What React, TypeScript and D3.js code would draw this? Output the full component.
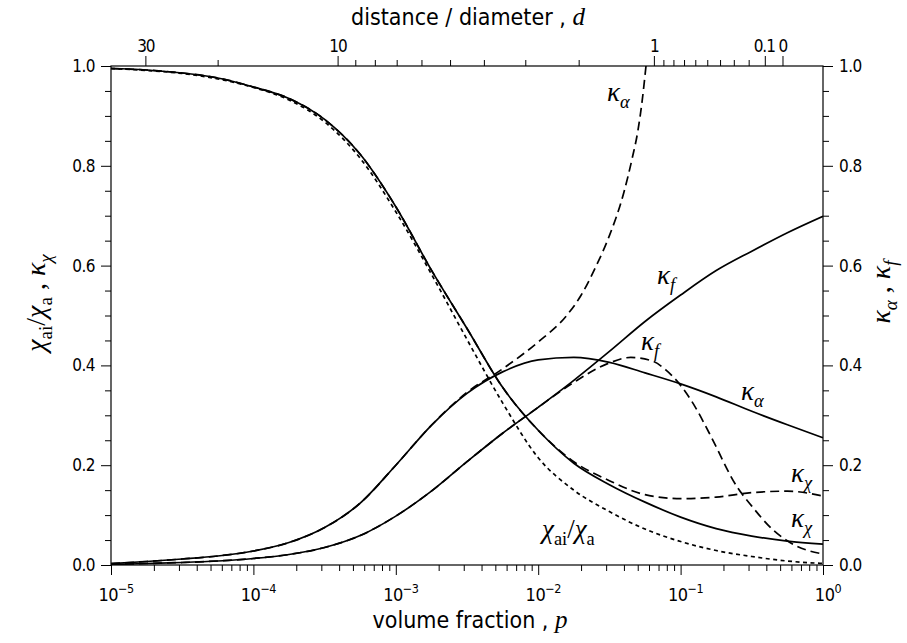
import { useEffect, useRef } from "react";
import * as d3 from "d3";

// log10 of the volume fraction p, shared sampling grid
const gridLogP = [-5, -4.75, -4.5, -4.25, -4, -3.75, -3.5, -3.25, -3, -2.75, -2.5, -2.25, -2, -1.75, -1.5, -1.25, -1, -0.75, -0.5, -0.25, 0];

const chiRatio = [0.995, 0.991, 0.985, 0.974, 0.957, 0.932, 0.888, 0.815, 0.708, 0.583, 0.452, 0.325, 0.215, 0.150, 0.107, 0.072, 0.047, 0.029, 0.017, 0.008, 0.003];
const kappaChiSolid = [0.995, 0.992, 0.986, 0.976, 0.958, 0.935, 0.893, 0.823, 0.718, 0.591, 0.474, 0.356, 0.270, 0.204, 0.161, 0.126, 0.096, 0.073, 0.058, 0.048, 0.042];
const kappaChiDashed = [0.995, 0.992, 0.986, 0.976, 0.958, 0.935, 0.893, 0.823, 0.718, 0.591, 0.474, 0.356, 0.270, 0.207, 0.169, 0.141, 0.133, 0.136, 0.145, 0.148, 0.138];
const kappaAlphaSolid = [0.003, 0.007, 0.012, 0.018, 0.028, 0.045, 0.075, 0.124, 0.200, 0.280, 0.344, 0.387, 0.411, 0.416, 0.406, 0.385, 0.363, 0.337, 0.308, 0.281, 0.255];
const kappaFSolid = [0.001, 0.003, 0.005, 0.008, 0.013, 0.021, 0.035, 0.059, 0.098, 0.148, 0.207, 0.264, 0.316, 0.370, 0.428, 0.488, 0.541, 0.590, 0.629, 0.666, 0.699];

const kappaAlphaDashedLogP = [-5, -4.75, -4.5, -4.25, -4, -3.75, -3.5, -3.25, -3, -2.75, -2.5, -2.25, -2, -1.8, -1.7, -1.6, -1.5, -1.4, -1.34, -1.3, -1.27, -1.243];
const kappaAlphaDashed = [0.003, 0.007, 0.012, 0.018, 0.028, 0.045, 0.075, 0.124, 0.200, 0.280, 0.346, 0.393, 0.447, 0.500, 0.540, 0.595, 0.660, 0.745, 0.815, 0.870, 0.930, 1.0];

const kappaFDashedLogP = [-5, -4.75, -4.5, -4.25, -4, -3.75, -3.5, -3.25, -3, -2.75, -2.5, -2.25, -2, -1.75, -1.5, -1.35, -1.2, -1.1, -1.0, -0.9, -0.8, -0.6, -0.5, -0.35, -0.2, 0];
const kappaFDashed = [0.001, 0.003, 0.005, 0.008, 0.013, 0.021, 0.035, 0.059, 0.098, 0.148, 0.207, 0.264, 0.316, 0.366, 0.405, 0.416, 0.409, 0.390, 0.360, 0.318, 0.265, 0.155, 0.118, 0.070, 0.040, 0.022];

// axis ticks
const decades = [-5, -4, -3, -2, -1, 0];
const yMajorTicks = [0, 0.2, 0.4, 0.6, 0.8, 1.0];
const yMinorTicks = [0.05, 0.1, 0.15, 0.25, 0.3, 0.35, 0.45, 0.5, 0.55, 0.65, 0.7, 0.75, 0.85, 0.9, 0.95];
const dMajorTicks = [30, 10, 1, 0.1, 0];
const dTickLabels = ["30", "10", "1", "0.1", "0"];
const dMinorTicks = [20, 9, 8, 7, 6, 5, 4, 3, 2, 0.9, 0.8, 0.7, 0.6, 0.5, 0.4, 0.3, 0.2];

const SANS = "'DejaVu Sans Condensed', 'DejaVu Sans', sans-serif";
const SERIF = "'Liberation Serif', 'DejaVu Serif', serif";

// distance/diameter -> volume fraction (simple cubic arrangement)
const pFromD = (d: number) => Math.PI / 6 / Math.pow(1 + d, 3);

type Part = { t: string; sub?: boolean; it?: boolean };

const kap = (s: string): Part[] => [{ t: "κ", it: true }, { t: s, sub: true, it: true }];
const chiPair: Part[] = [
  { t: "χ", it: true },
  { t: "ai", sub: true },
  { t: "/" },
  { t: "χ", it: true },
  { t: "a", sub: true },
];

export default function App() {
  const svgRef = useRef<SVGSVGElement>(null);
  const width = 907;
  const height = 643;

  useEffect(() => {
    if (!svgRef.current) return;
    const svg = d3.select(svgRef.current);
    svg.selectAll("*").remove();

    const left = 111;
    const right = 823;
    const top = 66;
    const bottom = 565;

    const x = d3.scaleLog().domain([1e-5, 1]).range([left, right]);
    const y = d3.scaleLinear().domain([0, 1]).range([bottom, top]);

    // Math-ish label with subscripts
    const mathText = (
      sel: d3.Selection<SVGTextElement, unknown, null, undefined>,
      parts: Part[],
      size: number
    ) => {
      let shifted = false;
      parts.forEach((p) => {
        const ts = sel.append("tspan").text(p.t);
        ts.attr("font-family", SERIF);
        if (p.it) ts.attr("font-style", "italic");
        if (p.sub) {
          ts.attr("font-size", size * 0.68).attr("dy", shifted ? 0 : size * 0.25);
          shifted = true;
        } else {
          ts.attr("font-size", size);
          if (shifted) ts.attr("dy", -size * 0.25);
          shifted = false;
        }
      });
    };

    // Series
    const line = d3
      .line<[number, number]>()
      .x((d) => x(Math.pow(10, d[0])))
      .y((d) => y(d[1]))
      .curve(d3.curveMonotoneX);

    const series = [
      { logP: gridLogP, values: chiRatio, dash: "4,3.5" },
      { logP: gridLogP, values: kappaChiSolid, dash: null },
      { logP: gridLogP, values: kappaChiDashed, dash: "9,5" },
      { logP: gridLogP, values: kappaAlphaSolid, dash: null },
      { logP: gridLogP, values: kappaFSolid, dash: null },
      { logP: kappaAlphaDashedLogP, values: kappaAlphaDashed, dash: "9,5" },
      { logP: kappaFDashedLogP, values: kappaFDashed, dash: "9,5" },
    ];

    svg
      .append("defs")
      .append("clipPath")
      .attr("id", "plot-clip")
      .append("rect")
      .attr("x", left)
      .attr("y", top)
      .attr("width", right - left)
      .attr("height", bottom - top);

    const lines = svg.append("g").attr("clip-path", "url(#plot-clip)");
    series.forEach((s) => {
      const pts = s.logP.map((lp, i) => [lp, s.values[i]] as [number, number]);
      lines
        .append("path")
        .attr("d", line(pts))
        .attr("fill", "none")
        .attr("stroke", "#000")
        .attr("stroke-width", 1.7)
        .attr("stroke-dasharray", s.dash ?? null);
    });

    // Frame
    svg
      .append("rect")
      .attr("x", left)
      .attr("y", top)
      .attr("width", right - left)
      .attr("height", bottom - top)
      .attr("fill", "none")
      .attr("stroke", "#000")
      .attr("stroke-width", 1.2);

    // Bottom axis
    const minorP: number[] = [];
    decades.slice(0, -1).forEach((e) => {
      for (let k = 2; k <= 9; k++) minorP.push(k * Math.pow(10, e));
    });
    const styleAxis = (g: d3.Selection<SVGGElement, unknown, null, undefined>) => {
      g.select(".domain").remove();
      g.selectAll(".tick line").attr("stroke", "#000").attr("stroke-width", 1);
      g.selectAll(".tick text")
        .attr("font-family", SANS)
        .attr("font-size", 17)
        .attr("letter-spacing", -0.5)
        .attr("fill", "#000");
    };

    svg
      .append("g")
      .attr("transform", `translate(0,${bottom})`)
      .call(d3.axisBottom(x).tickValues(decades.map((e) => Math.pow(10, e))).tickSize(10).tickFormat(() => ""))
      .call(styleAxis);
    svg
      .append("g")
      .attr("transform", `translate(0,${bottom})`)
      .call(d3.axisBottom(x).tickValues(minorP).tickSize(6).tickFormat(() => ""))
      .call(styleAxis);

    decades.forEach((e) => {
      const t = svg
        .append("text")
        .attr("x", x(Math.pow(10, e)) + 5)
        .attr("y", 601)
        .attr("text-anchor", "middle")
        .attr("font-family", SANS)
        .attr("font-size", 18)
        .attr("letter-spacing", -0.5);
      t.append("tspan").text("10");
      t.append("tspan")
        .attr("font-size", 12.5)
        .attr("dy", -8)
        .text(e === 0 ? "0" : `\u2212${-e}`);
    });

    // Left and right axes
    const fmt = d3.format(".1f");
    svg
      .append("g")
      .attr("transform", `translate(${left},0)`)
      .call(d3.axisLeft(y).tickValues(yMajorTicks).tickSize(10).tickPadding(6).tickFormat((d) => fmt(d as number)))
      .call(styleAxis);
    svg
      .append("g")
      .attr("transform", `translate(${left},0)`)
      .call(d3.axisLeft(y).tickValues(yMinorTicks).tickSize(6).tickFormat(() => ""))
      .call(styleAxis);
    svg
      .append("g")
      .attr("transform", `translate(${right},0)`)
      .call(d3.axisRight(y).tickValues(yMajorTicks).tickSize(10).tickPadding(6).tickFormat((d) => fmt(d as number)))
      .call(styleAxis);
    svg
      .append("g")
      .attr("transform", `translate(${right},0)`)
      .call(d3.axisRight(y).tickValues(yMinorTicks).tickSize(6).tickFormat(() => ""))
      .call(styleAxis);

    // Top axis: distance / diameter
    const topG = svg.append("g");
    topG
      .selectAll("line.major")
      .data(dMajorTicks)
      .enter()
      .append("line")
      .attr("x1", (d) => x(pFromD(d)))
      .attr("x2", (d) => x(pFromD(d)))
      .attr("y1", top)
      .attr("y2", top - 10)
      .attr("stroke", "#000");
    topG
      .selectAll("line.minor")
      .data(dMinorTicks)
      .enter()
      .append("line")
      .attr("x1", (d) => x(pFromD(d)))
      .attr("x2", (d) => x(pFromD(d)))
      .attr("y1", top)
      .attr("y2", top - 6)
      .attr("stroke", "#000");
    topG
      .selectAll("text")
      .data(dMajorTicks)
      .enter()
      .append("text")
      .attr("x", (d, i) => x(pFromD(d)) + (i === 3 ? -1 : 0))
      .attr("y", 52)
      .attr("text-anchor", "middle")
      .attr("font-family", SANS)
      .attr("font-size", 17)
      .attr("letter-spacing", -1)
      .text((_, i) => dTickLabels[i]);

    // Axis titles
    const topTitle = svg
      .append("text")
      .attr("x", 468)
      .attr("y", 25)
      .attr("text-anchor", "middle")
      .attr("font-family", SANS)
      .attr("font-size", 23);
    topTitle.append("tspan").text("distance / diameter ,  ");
    topTitle.append("tspan").attr("font-family", SERIF).attr("font-style", "italic").attr("font-size", 25).text("d");

    const botTitle = svg
      .append("text")
      .attr("x", 470)
      .attr("y", 628)
      .attr("text-anchor", "middle")
      .attr("font-family", SANS)
      .attr("font-size", 23);
    botTitle.append("tspan").text("volume fraction ,  ");
    botTitle.append("tspan").attr("font-family", SERIF).attr("font-style", "italic").attr("font-size", 25).text("p");

    const leftTitle = svg
      .append("text")
      .attr("transform", "translate(45,303) rotate(-90)")
      .attr("text-anchor", "middle");
    mathText(leftTitle, [...chiPair, { t: " , " }, ...kap("χ")], 28);

    const rightTitle = svg
      .append("text")
      .attr("transform", "translate(890,292) rotate(-90)")
      .attr("text-anchor", "middle");
    mathText(rightTitle, [...kap("α"), { t: " , " }, ...kap("f")], 28);

    // Curve labels
    const curveLabels: { parts: Part[]; x: number; y: number }[] = [
      { parts: kap("α"), x: 607, y: 101 },
      { parts: kap("f"), x: 657, y: 284 },
      { parts: kap("f"), x: 641, y: 350 },
      { parts: kap("α"), x: 741, y: 400 },
      { parts: kap("χ"), x: 791, y: 482 },
      { parts: kap("χ"), x: 791, y: 527 },
      { parts: chiPair, x: 542, y: 538 },
    ];
    curveLabels.forEach((l) => {
      const t = svg.append("text").attr("x", l.x).attr("y", l.y);
      mathText(t, l.parts, 27);
    });

    return () => {
      svg.selectAll("*").remove();
    };
  }, []);

  return (
    <svg
      ref={svgRef}
      width={width}
      height={height}
      style={{ position: "absolute", left: 0, top: 0, background: "#fff" }}
    />
  );
}
